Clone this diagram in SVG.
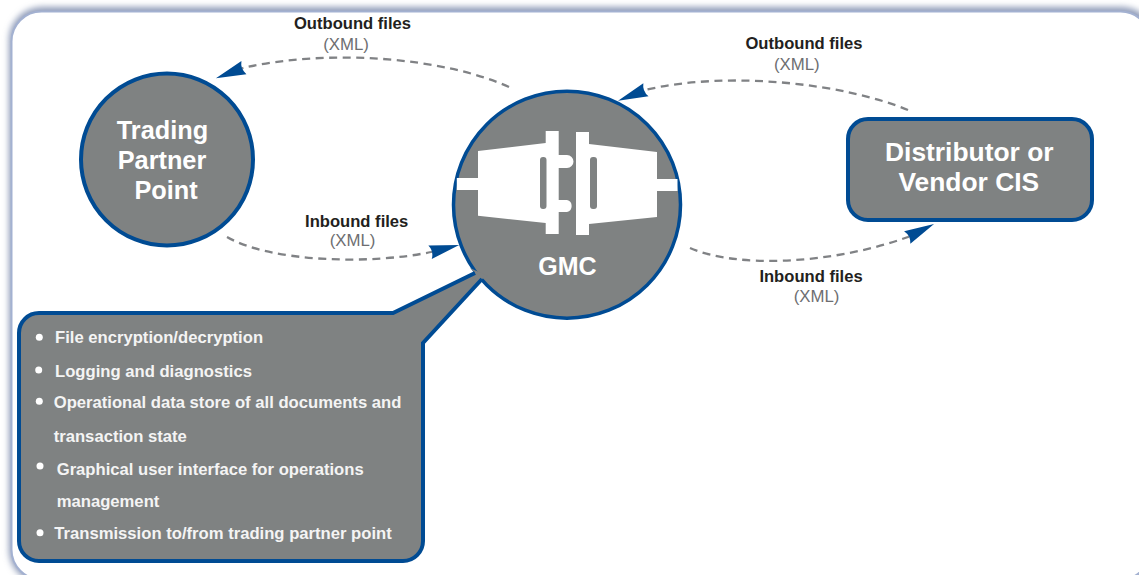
<svg xmlns="http://www.w3.org/2000/svg" width="1139" height="575" viewBox="0 0 1139 575">
<style>
text{font-family:"Liberation Sans",Arial,sans-serif}
.n{fill:#7f8282;stroke:#004b93;stroke-width:4}
.h{font-size:25.3px;font-weight:700;fill:#fff;text-anchor:middle}
.h2{font-size:26.4px}
.l{font-size:16.6px;font-weight:700;fill:#231f20;text-anchor:middle}
.x{font-size:16.8px;fill:#6d6e71;text-anchor:middle}
.b{font-size:16.65px;font-weight:700;fill:#f4f4f4}
.d{fill:#fff}
.c{fill:none;stroke:#808285;stroke-width:2.3;stroke-dasharray:8 5.5;marker-end:url(#a)}
</style>
<defs>
<filter id="s" x="-3%" y="-6%" width="106%" height="112%"><feGaussianBlur stdDeviation="3"/></filter>
<marker id="a" markerUnits="userSpaceOnUse" markerWidth="30" markerHeight="20" refX="2" refY="8" orient="auto" overflow="visible">
<path d="M0 1Q4 8 0 15L30 8Z" fill="#004b93"/>
</marker>
</defs>
<rect width="1139" height="575" fill="#fff"/>
<g id="panel">
<rect x="9" y="7" width="1146" height="576" rx="33" fill="#8f9bb8" filter="url(#s)"/>
<rect x="11.500" y="11.500" width="1139" height="568" rx="30" fill="#fff" stroke="#a3b1d1" stroke-width="2"/>
</g>
<g id="connectors">
<path class="c" d="M509 87C445 58 330 48 243 68L242.060 68.360"/>
<path class="c" d="M908 110C845 84 730 70 645 90L644.070 90.370"/>
<path class="c" d="M227 237C270 262 370 265 431 252L432 251.750"/>
<path class="c" d="M690 248C735 268 830 265 908 237L909 236.500"/>
</g>
<g id="trading">
<circle class="n" cx="167" cy="159.500" r="86"/>
<text class="h" x="162.500" y="139">Trading</text>
<text class="h" x="162" y="169">Partner</text>
<text class="h" x="166" y="199">Point</text>
</g>
<g id="gmc">
<circle class="n" cx="567" cy="204.700" r="113.500" style="stroke-width:3.5px"/>
<path class="d" d="M456.800 178H478V151L545.700 143V131H558.700V155H567A6.500 6.500 0 0 1 567 168H558.700V200H567A6.200 6.200 0 0 1 567 212H558.700V234H545.700V223L478 215.700V190H456.800Z"/>
<path class="d" d="M576 132H589V144L657 152V179H677.500V191H657V217L589 224V235H576Z"/>
<rect x="540" y="157" width="6.500" height="52" rx="3" fill="#7f8282"/>
<rect x="590" y="157" width="7" height="52" rx="3" fill="#7f8282"/>
<text class="h" x="567.500" y="275" style="font-size:25px">GMC</text>
</g>
<g id="features">
<path d="M39 313H393L475 273L470 268L488 276L482 279L423 343V541A20 20 0 0 1 403 561H39A20 20 0 0 1 19 541V333A20 20 0 0 1 39 313Z" fill="#7f8282"/>
<path d="M475 273L393 313H39A20 20 0 0 0 19 333V541A20 20 0 0 0 39 561H403A20 20 0 0 0 423 541V343L482 279" fill="none" stroke="#004b93" stroke-width="4"/>
<circle class="d" cx="39.300" cy="337.300" r="3.500"/>
<circle class="d" cx="38.700" cy="370" r="3.500"/>
<circle class="d" cx="39.300" cy="401.300" r="3.500"/>
<circle class="d" cx="40" cy="466" r="3.500"/>
<circle class="d" cx="40" cy="532.700" r="3.500"/>
<text class="b" x="55" y="343.300">File encryption/decryption</text>
<text class="b" x="55" y="376.700">Logging and diagnostics</text>
<text class="b" x="53.700" y="408.300">Operational data store of all documents and</text>
<text class="b" x="53.700" y="442.300">transaction state</text>
<text class="b" x="56.700" y="475">Graphical user interface for operations</text>
<text class="b" x="56.700" y="507.300">management</text>
<text class="b" x="54.300" y="539.300">Transmission to/from trading partner point</text>
</g>
<g id="distributor">
<rect class="n" x="848" y="119" width="244" height="101" rx="20"/>
<text class="h h2" x="969.300" y="161">Distributor or</text>
<text class="h h2" x="968.800" y="190.700">Vendor CIS</text>
</g>
<g id="labels">
<text class="l" x="352.500" y="29">Outbound files</text>
<text class="x" x="346" y="50">(XML)</text>
<text class="l" x="804" y="49.300">Outbound files</text>
<text class="x" x="796.800" y="70">(XML)</text>
<text class="l" x="356.700" y="226.700">Inbound files</text>
<text class="x" x="352.500" y="245.500">(XML)</text>
<text class="l" x="811" y="281.700">Inbound files</text>
<text class="x" x="816.500" y="302">(XML)</text>
</g>
</svg>
